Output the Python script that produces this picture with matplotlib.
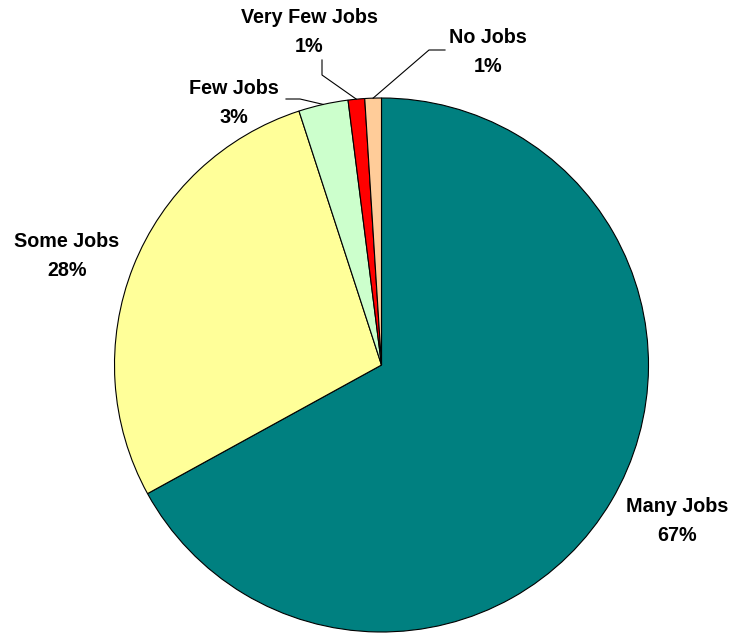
import numpy as np
import matplotlib
matplotlib.use("Agg")
import matplotlib.pyplot as plt

categories = ["Many Jobs", "Some Jobs", "Few Jobs", "Very Few Jobs", "No Jobs"]
values = [67, 28, 3, 1, 1]
colors = ["#008080", "#FFFF99", "#CCFFCC", "#FF0000", "#FFCC99"]

W, H = 731, 633
fig = plt.figure(figsize=(W / 100, H / 100), dpi=100)
ax = fig.add_axes([0, 0, 1, 1])

cx, cy, r = 381.5, H - 365, 267
wedges, _ = ax.pie(values, colors=colors, startangle=90, counterclock=False,
                   center=(cx, cy), radius=r, frame=True,
                   wedgeprops=dict(edgecolor="black", linewidth=0.8))
ax.set_xlim(0, W)
ax.set_ylim(0, H)
ax.set_aspect("equal")
ax.axis("off")

# label text centres (pixel coords from top) and leader-line elbows
label_pos = {
    "Many Jobs": (677, 521),
    "Some Jobs": (67, 256),
    "Few Jobs": (234, 103),
    "Very Few Jobs": (309, 32),
    "No Jobs": (488, 52),
}
leaders = {
    "Few Jobs": [(286, 99), (300, 99)],
    "Very Few Jobs": [(322, 60), (322, 75)],
    "No Jobs": [(445, 50), (429, 50)],
}

total = sum(values)
for w, name, v in zip(wedges, categories, values):
    x, y = label_pos[name]
    ax.text(x, H - y, f"{name}\n{v / total * 100:.0f}%", ha="center", va="center",
            fontsize=14.2, fontweight="bold", family="Liberation Sans",
            linespacing=1.65, color="black")
    if name in leaders:
        mid = np.deg2rad((w.theta1 + w.theta2) / 2)
        ex, ey = cx + r * np.cos(mid), cy + r * np.sin(mid)
        pts = [(px, H - py) for px, py in leaders[name]] + [(ex, ey)]
        xs, ys = zip(*pts)
        ax.plot(xs, ys, color="black", linewidth=0.8)

fig.savefig("out.png", dpi=100, facecolor="white")
